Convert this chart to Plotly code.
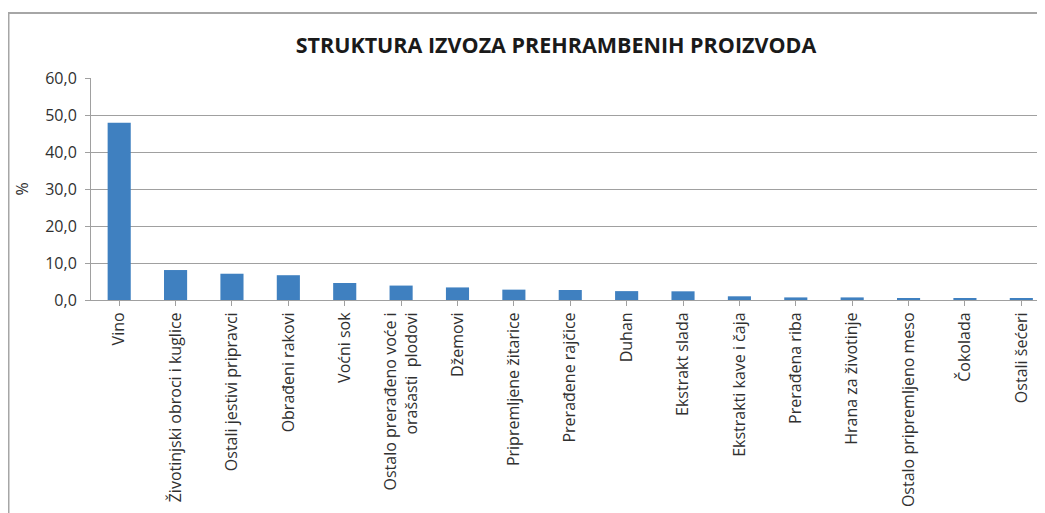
import plotly.graph_objects as go

categories = [
    "Vino",
    "Životinjski obroci i kuglice",
    "Ostali jestivi pripravci",
    "Obrađeni rakovi",
    "Voćni sok",
    "Ostalo prerađeno voće i<br>orašasti  plodovi",
    "Džemovi",
    "Pripremljene žitarice",
    "Prerađene rajčice",
    "Duhan",
    "Ekstrakt slada",
    "Ekstrakti kave i čaja",
    "Prerađena riba",
    "Hrana za životinje",
    "Ostalo pripremljeno meso",
    "Čokolada",
    "Ostali šećeri",
]
shares = [47.9, 8.1, 7.1, 6.7, 4.6, 3.9, 3.4, 2.8, 2.7, 2.4, 2.35, 1.0, 0.7, 0.7, 0.55, 0.4, 0.4]
y_ticks = [0, 10, 20, 30, 40, 50, 60]
y_tick_labels = ["0,0", "10,0", "20,0", "30,0", "40,0", "50,0", "60,0"]

FONT = "Open Sans, Liberation Sans, sans-serif"
LABEL = "#303030"
GRID = "#a0a0a0"

# the page body adds an 8px margin, so the figure is placed 8px in
W, H = 1037, 505
L, T, B = 83, 70, 213  # plot area on the page: x 91..1045, y 78..300

fig = go.Figure(go.Bar(
    x=list(range(len(categories))),
    y=shares,
    width=0.41,
    marker=dict(color="#3F80C0", line=dict(width=0)),
))

fig.update_layout(
    width=W,
    height=H,
    margin=dict(l=L, r=0, t=T, b=B),
    paper_bgcolor="white",
    plot_bgcolor="white",
    showlegend=False,
    font=dict(family=FONT, size=16, color=LABEL),
    title=dict(
        text="<b>STRUKTURA IZVOZA PREHRAMBENIH PROIZVODA</b>",
        x=548 / W,
        xanchor="center",
        y=1 - 37 / H,
        yanchor="middle",
        font=dict(family=FONT, size=21.5, color="#1a1a1a"),
    ),
    shapes=[
        dict(
            type="rect", xref="paper", yref="paper",
            x0=(0.5 - L) / 954, x1=1.05,
            y0=-1.2, y1=(292 - 5) / 222,
            line=dict(color="#a6a6a6", width=2),
            fillcolor="rgba(0,0,0,0)",
            layer="below",
        )
    ],
)

fig.update_xaxes(
    tickmode="array",
    tickvals=list(range(len(categories))),
    ticktext=categories,
    tickangle=-90,
    range=[-0.5, 16.42],
    showgrid=False,
    showline=True,
    linecolor=GRID,
    linewidth=1,
    ticks="outside",
    tickson="boundaries",
    ticklen=5,
    tickcolor=GRID,
    tickfont=dict(family=FONT, size=16, color=LABEL),
)

fig.update_yaxes(
    range=[0, 60],
    tickmode="array",
    tickvals=y_ticks,
    ticktext=y_tick_labels,
    showgrid=True,
    gridcolor=GRID,
    gridwidth=1,
    showline=True,
    linecolor=GRID,
    linewidth=1,
    ticks="outside",
    ticklen=5,
    tickcolor=GRID,
    ticklabelstandoff=5,
    zeroline=False,
    tickfont=dict(family=FONT, size=16, color=LABEL),
    title=dict(text="%", font=dict(family=FONT, size=16, color=LABEL), standoff=12),
)

fig.write_html("out.html")
